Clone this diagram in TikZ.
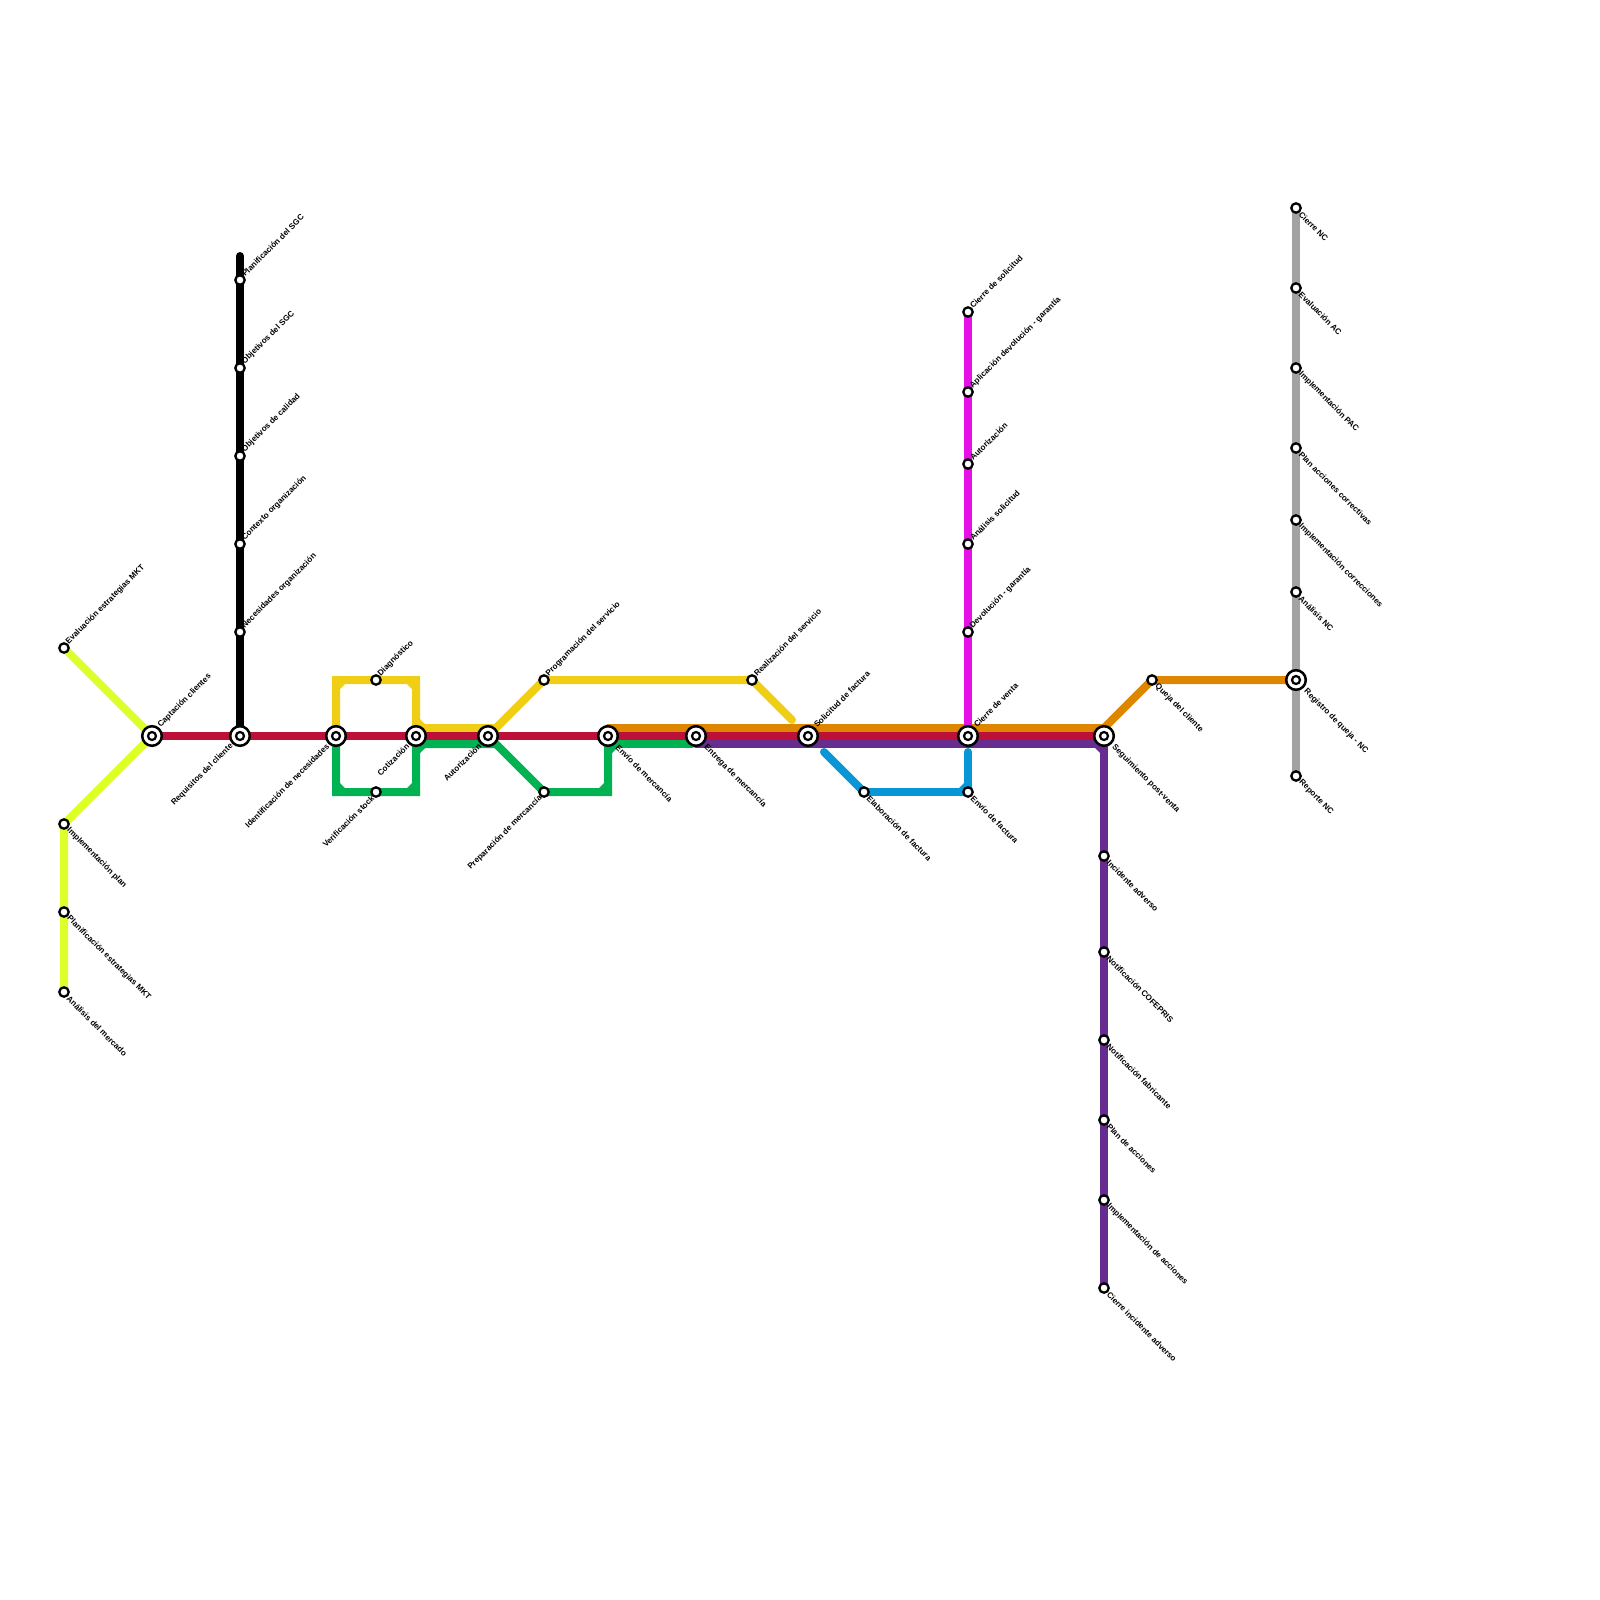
\documentclass[tikz,border=0pt]{standalone}
\usepackage{fontspec}
\setmainfont{Liberation Sans}
\usetikzlibrary{backgrounds}
\definecolor{clime}{HTML}{DFFF2A}
\definecolor{cyel}{HTML}{F0CE15}
\definecolor{cgreen}{HTML}{00B251}
\definecolor{ccrim}{HTML}{BD1038}
\definecolor{corange}{HTML}{DF8600}
\definecolor{cpurp}{HTML}{662C90}
\definecolor{cblue}{HTML}{0896D7}
\definecolor{cmag}{HTML}{E60FE6}
\definecolor{cgray}{HTML}{A2A2A2}
\tikzset{x=0.5pt,y=-0.5pt,
  metro/.style={line width=4pt,miter limit=10,line join=miter},
  stn/.style={circle,draw=black,fill=white,line width=1.15pt,minimum size=4.7pt,inner sep=0pt},
  hub/.style={circle,draw=black,fill=white,line width=1.25pt,minimum size=9.8pt,inner sep=0pt,
    path picture={\draw[black,line width=1.1pt] (path picture bounding box.center) circle (2pt);}},
  lab/.style={font=\bfseries\fontsize{4.05pt}{5pt}\selectfont,inner sep=0pt,text=black},
  ur/.style={lab,rotate=45,anchor=west,xshift=0.3pt,yshift=0.3pt},
  dr/.style={lab,rotate=-45,anchor=west,xshift=0.4pt,yshift=-0.4pt},
  dl/.style={lab,rotate=45,anchor=east,xshift=-0.3pt,yshift=-0.3pt}}
\newcommand{\chamf}[5]{\fill[#1] (#2,#3) -- ++(#4,0) -- ++(-#4,#5) -- cycle;}
\begin{document}
\begin{tikzpicture}
\useasboundingbox (0,0) rectangle (1600,1600);
% hubs
\node[hub] (capt) at (152,736) {};
\node[hub] (req) at (240,736) {};
\node[hub] (iden) at (336,736) {};
\node[hub] (coti) at (416,736) {};
\node[hub] (auto) at (488,736) {};
\node[hub] (envm) at (608,736) {};
\node[hub] (entr) at (696,736) {};
\node[hub] (soli) at (808,736) {};
\node[hub] (cierv) at (968,736) {};
\node[hub] (segu) at (1104,736) {};
\node[hub] (regi) at (1296,680) {};
% stations
\node[stn] (eval) at (64,648) {};
\node[stn] (impl) at (64,824) {};
\node[stn] (plae) at (64,912) {};
\node[stn] (anam) at (64,992) {};
\node[stn] (psgc) at (240,280) {};
\node[stn] (osgc) at (240,368) {};
\node[stn] (ocal) at (240,456) {};
\node[stn] (cont) at (240,544) {};
\node[stn] (nece) at (240,632) {};
\node[stn] (diag) at (376,680) {};
\node[stn] (veri) at (376,792) {};
\node[stn] (prog) at (544,680) {};
\node[stn] (prep) at (544,792) {};
\node[stn] (real) at (752,680) {};
\node[stn] (elab) at (864,792) {};
\node[stn] (envf) at (968,792) {};
\node[stn] (cier) at (968,312) {};
\node[stn] (apli) at (968,392) {};
\node[stn] (auts) at (968,464) {};
\node[stn] (anas) at (968,544) {};
\node[stn] (devo) at (968,632) {};
\node[stn] (inci) at (1104,856) {};
\node[stn] (noti) at (1104,952) {};
\node[stn] (notf) at (1104,1040) {};
\node[stn] (plan) at (1104,1120) {};
\node[stn] (impa) at (1104,1200) {};
\node[stn] (cina) at (1104,1288) {};
\node[stn] (quej) at (1152,680) {};
\node[stn] (cnc) at (1296,208) {};
\node[stn] (eac) at (1296,288) {};
\node[stn] (ipac) at (1296,368) {};
\node[stn] (pacc) at (1296,448) {};
\node[stn] (icor) at (1296,520) {};
\node[stn] (anc) at (1296,592) {};
\node[stn] (rnc) at (1296,776) {};
% free ends and offset track points
\coordinate (blacktop) at (240,256);
\coordinate (yel1) at (416,728);
\coordinate (yel2) at (496,728);
\coordinate (yelend) at (792,720);
\coordinate (gre1) at (416,744);
\coordinate (gre2) at (496,744);
\coordinate (gre3) at (608,744);
\coordinate (greend) at (692,744);
\coordinate (ora1) at (608,728);
\coordinate (ora2) at (1104,728);
\coordinate (pur1) at (696,744);
\coordinate (pur2) at (1104,744);
\coordinate (blu1) at (824,752);
\coordinate (blu2) at (968,752);
\begin{scope}[on background layer]
 \draw[metro,clime] (eval.center) -- (capt.center) -- (impl.center) -- (plae.center) -- (anam.center);
 \draw[metro,black,line cap=round] (blacktop) -- (psgc.center) -- (req.center);
 \draw[metro,corange,line cap=round] (ora1) -- (ora2);
 \draw[metro,corange] (ora2) -- (quej.center) -- (regi.center);
 \draw[metro,cgray] (cnc.center) -- (rnc.center);
 \draw[metro,cyel] (iden.center) |- (diag.center) -| (yel1) -- (yel2) -- (prog.center) -- (real.center);
 \draw[metro,cyel,line cap=round] (real.center) -- (yelend);
 \draw[metro,cgreen] (iden.center) |- (veri.center) -| (gre1) -- (gre2) -- (prep.center) -| (gre3);
 \draw[metro,cgreen,line cap=round] (gre3) -- (greend);
 \draw[metro,cpurp,line cap=round] (pur1) -- (pur2);
 \draw[metro,cpurp] (pur2) -- (cina.center);
 \draw[metro,ccrim] (capt.center) -- (segu.center);
 \draw[metro,cmag] (cier.center) -- (cierv.center);
 \draw[metro,cblue,line cap=round] (blu1) -- (elab.center);
 \draw[metro,cblue] (elab.center) -- (envf.center);
 \draw[metro,cblue,line cap=round] (blu2) -- (envf.center);
 \chamf{cyel}{340}{684}{5}{5}
 \chamf{cyel}{412}{684}{-5}{5}
 \chamf{cyel}{420}{724}{5}{-5}
 \chamf{cgreen}{340}{788}{5}{-5}
 \chamf{cgreen}{412}{788}{-5}{-5}
 \chamf{cgreen}{420}{748}{5}{5}
 \chamf{cgreen}{604}{788}{-5}{-5}
 \chamf{cgreen}{612}{748}{5}{5}
 \chamf{cblue}{964}{788}{-5}{-5}
 \chamf{cpurp}{1100}{748}{-5}{5}
\end{scope}
% labels
\node[ur] (t1) at (67,644) {Evaluación estrategias MKT};
\node[ur] (t2) at (159,727) {Captación clientes};
\node[dr] (t3) at (68,828) {Implementación plan};
\node[dr] (t4) at (68,916) {Planificación estrategias MKT};
\node[dr] (t5) at (68,996) {Análisis del mercado};
\node[ur] (t6) at (243,276) {Planificación del SGC};
\node[ur] (t7) at (243,364) {Objetivos del SGC};
\node[ur] (t8) at (243,452) {Objetivos de calidad};
\node[ur] (t9) at (243,540) {Contexto organización};
\node[ur] (t10) at (243,628) {Necesidades organización};
\node[dl] (t11) at (232,744) {Requisitos del cliente};
\node[dl] (t12) at (328,744) {Identificación de necesidades};
\node[ur] (t13) at (379,676) {Diagnóstico};
\node[dl] (t14) at (373,796) {Verificación stock};
\node[dl] (t15) at (408,744) {Cotización};
\node[dl] (t16) at (480,744) {Autorización};
\node[ur] (t17) at (547,676) {Programación del servicio};
\node[dl] (t18) at (541,796) {Preparación de mercancía};
\node[dr] (t19) at (617,745) {Envío de mercancía};
\node[dr] (t20) at (705,745) {Entrega de mercancía};
\node[ur] (t21) at (755,676) {Realización del servicio};
\node[ur] (t22) at (815,727) {Solicitud de factura};
\node[dr] (t23) at (868,796) {Elaboración de factura};
\node[dr] (t24) at (972,796) {Envío de factura};
\node[ur] (t25) at (975,727) {Cierre de venta};
\node[ur] (t26) at (971,308) {Cierre de solicitud};
\node[ur] (t27) at (971,388) {Aplicación devolución - garantía};
\node[ur] (t28) at (971,460) {Autorización};
\node[ur] (t29) at (971,540) {Análisis solicitud};
\node[ur] (t30) at (971,628) {Devolución - garantía};
\node[dr] (t31) at (1113,745) {Seguimiento post-venta};
\node[dr] (t32) at (1108,860) {Incidente adverso};
\node[dr] (t33) at (1108,956) {Notificación COFEPRIS};
\node[dr] (t34) at (1108,1044) {Notificación fabricante};
\node[dr] (t35) at (1108,1124) {Plan de acciones};
\node[dr] (t36) at (1108,1204) {Implementación de acciones};
\node[dr] (t37) at (1108,1292) {Cierre incidente adverso};
\node[dr] (t38) at (1156,684) {Queja del cliente};
\node[dr] (t39) at (1305,689) {Registro de queja - NC};
\node[dr] (t40) at (1300,212) {Cierre NC};
\node[dr] (t41) at (1300,292) {Evaluación AC};
\node[dr] (t42) at (1300,372) {Implementación PAC};
\node[dr] (t43) at (1300,452) {Plan acciones correctivas};
\node[dr] (t44) at (1300,524) {Implementación correcciones};
\node[dr] (t45) at (1300,596) {Análisis NC};
\node[dr] (t46) at (1300,780) {Reporte NC};
\end{tikzpicture}
\end{document}
